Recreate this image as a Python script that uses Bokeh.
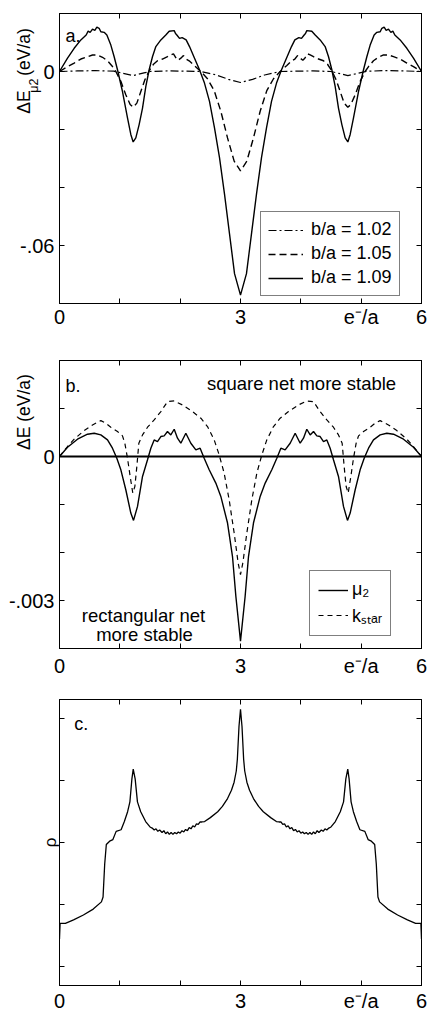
import math
from bokeh.plotting import figure
from bokeh.models import FixedTicker, LinearAxis, Range1d, Label, Legend, LegendItem, Span
from bokeh.layouts import column
from bokeh.embed import file_html
from bokeh.resources import INLINE

FONT = "Liberation Sans"
NB = "\u00a0"

# ---------------- data: panel a (Delta E_mu2 vs e-/a) ----------------
a109_x = [0, .133, .243, .354, .442, .475, .508, .547, .586, .619, .657, .685, .740, .785, .851, .906, .961,
          1.044, 1.127, 1.182, 1.221, 1.265, 1.320, 1.376, 1.431, 1.486, 1.541, 1.597, 1.680, 1.762, 1.818,
          1.901, 1.923, 1.945, 1.989, 2.033, 2.099, 2.155, 2.238, 2.320, 2.403, 2.486, 2.569, 2.652, 2.735,
          2.818, 2.901, 3.0,
          3.099, 3.182, 3.265, 3.348, 3.431, 3.514, 3.597, 3.680, 3.762, 3.845, 3.901, 3.967, 4.011, 4.055,
          4.077, 4.099, 4.182, 4.238, 4.320, 4.403, 4.459, 4.514, 4.569, 4.624, 4.680, 4.735, 4.779, 4.818,
          4.873, 4.956, 5.039, 5.094, 5.149, 5.215, 5.260, 5.315, 5.343, 5.381, 5.414, 5.453, 5.492, 5.525,
          5.558, 5.646, 5.757, 5.867, 6.0]
a109_y = [0, .0046, .0080, .0109, .0126, .0139, .0135, .0146, .0142, .0153, .0149, .0137, .0135, .0126, .0091,
          .0051, .0006, -.0069, -.0160, -.0217, -.0243, -.0229, -.0183, -.0126, -.0051, .0006, .0051, .0086,
          .0109, .0126, .0139, .0141, .0131, .0126, .0114, .0117, .0109, .0086, .0046, .0006, -.0040, -.0103,
          -.0194, -.0297, -.0423, -.0560, -.0697, -.0771,
          -.0697, -.0560, -.0423, -.0297, -.0194, -.0103, -.0040, .0006, .0046, .0086, .0109, .0117, .0114,
          .0126, .0131, .0141, .0139, .0126, .0109, .0086, .0051, .0006, -.0051, -.0126, -.0183, -.0229,
          -.0243, -.0217, -.0160, -.0069, .0006, .0051, .0091, .0126, .0135, .0137, .0149, .0153, .0142,
          .0146, .0135, .0139, .0126, .0109, .0080, .0046, 0]

a105_x = [0, .133, .243, .354, .464, .547, .630, .713, .796, .878, .934, 1.017, 1.099, 1.171, 1.221, 1.282,
          1.348, 1.414, 1.486, 1.558, 1.624, 1.707, 1.790, 1.845, 1.889, 1.934, 1.967, 2.011, 2.055, 2.099,
          2.149, 2.232, 2.343, 2.453, 2.564, 2.674, 2.785, 2.895, 3.0,
          3.105, 3.215, 3.326, 3.436, 3.547, 3.657, 3.768, 3.851, 3.901, 3.945, 3.989, 4.033, 4.066, 4.111,
          4.155, 4.210, 4.293, 4.376, 4.442, 4.514, 4.586, 4.652, 4.718, 4.779, 4.829, 4.901, 4.983, 5.066,
          5.122, 5.204, 5.287, 5.370, 5.453, 5.536, 5.646, 5.757, 5.867, 6.0]
a105_y = [0, .0017, .0029, .0043, .0051, .0057, .0057, .0049, .0037, .0017, 0, -.0034, -.0080, -.0114, -.0123,
          -.0109, -.0069, -.0029, .0002, .0025, .0037, .0043, .0051, .0057, .0061, .0046, .0039, .0046, .0055,
          .0043, .0037, .0021, 0, -.0025, -.0066, -.0137, -.0229, -.0309, -.0343,
          -.0309, -.0229, -.0137, -.0066, -.0025, 0, .0021, .0037, .0043, .0055, .0046, .0039, .0046, .0061,
          .0057, .0051, .0043, .0037, .0025, .0002, -.0029, -.0069, -.0109, -.0123, -.0114, -.0080, -.0034,
          0, .0017, .0037, .0049, .0057, .0057, .0051, .0043, .0029, .0017, 0]

a102_x = [0, .3, .6, .9, 1.05, 1.22, 1.4, 1.5, 1.8, 2.1, 2.34, 2.6, 2.8, 3.0, 3.2, 3.4, 3.66, 3.9, 4.2, 4.5,
          4.6, 4.78, 4.95, 5.1, 5.4, 5.7, 6.0]
a102_y = [0, .0002, .0003, .0001, -.0006, -.0014, -.0005, 0, .0002, .0001, 0, -.0012, -.0027, -.0038, -.0027,
          -.0012, 0, .0001, .0002, 0, -.0005, -.0014, -.0006, .0001, .0003, .0002, 0]

a_labels = ["b/a = 1.02", "b/a = 1.05", "b/a = 1.09"]

# ---------------- data: panel b (Delta E, mu2 vs k_star) ----------------
bmu_x = [0, .133, .298, .464, .575, .685, .796, .878, .950, 1.017, 1.099, 1.182, 1.227, 1.293, 1.376, 1.459,
         1.514, 1.569, 1.624, 1.680, 1.735, 1.790, 1.845, 1.901, 1.956, 2.011, 2.094, 2.177, 2.260, 2.331,
         2.398, 2.481, 2.591, 2.674, 2.785, 2.867, 2.923, 3.0,
         3.077, 3.133, 3.215, 3.326, 3.409, 3.519, 3.602, 3.669, 3.740, 3.823, 3.906, 3.989, 4.044, 4.099,
         4.155, 4.210, 4.265, 4.320, 4.376, 4.431, 4.486, 4.541, 4.624, 4.707, 4.773, 4.818, 4.901, 4.983,
         5.050, 5.122, 5.204, 5.315, 5.425, 5.536, 5.702, 5.867, 6.0]
bmu_y = [0, .000194, .000360, .000464, .000485, .000450, .000346, .000173, -.000035, -.000277, -.000693,
         -.001178, -.001331, -.001040, -.000416, -.000069, .000173, .000346, .000312, .000416, .000430,
         .000520, .000450, .000568, .000381, .000277, .000485, .000277, .000139, .000173, -.000035,
         -.000277, -.000554, -.000832, -.001386, -.002079, -.002911, -.003846,
         -.002911, -.002079, -.001386, -.000832, -.000554, -.000277, -.000035, .000173, .000139, .000277,
         .000485, .000277, .000381, .000568, .000450, .000520, .000430, .000416, .000312, .000346, .000173,
         -.000069, -.000416, -.001040, -.001331, -.001178, -.000693, -.000277, -.000035, .000173, .000346,
         .000450, .000485, .000464, .000360, .000194, 0]

bks_x = [0, .133, .243, .409, .547, .685, .768, .851, .961, 1.044, 1.083, 1.127, 1.171, 1.215, 1.249, 1.282,
         1.315, 1.376, 1.459, 1.569, 1.680, 1.790, 1.901, 2.039, 2.204, 2.343, 2.453, 2.564, 2.646, 2.729,
         2.812, 2.895, 2.961, 3.0,
         3.039, 3.105, 3.188, 3.271, 3.354, 3.436, 3.547, 3.657, 3.796, 3.961, 4.099, 4.210, 4.320, 4.431,
         4.541, 4.624, 4.685, 4.718, 4.751, 4.785, 4.829, 4.873, 4.917, 4.956, 5.039, 5.149, 5.232, 5.315,
         5.453, 5.591, 5.757, 5.867, 6.0]
bks_y = [0, .000208, .000360, .000540, .000658, .000748, .000693, .000610, .000520, .000430, .000277,
         -.000035, -.000416, -.000762, -.000624, -.000208, .000277, .000450, .000610, .000762, .000936,
         .001143, .001157, .001074, .000936, .000797, .000624, .000346, .000035, -.000346, -.000901,
         -.001594, -.002218, -.002460,
         -.002218, -.001594, -.000901, -.000346, .000035, .000346, .000624, .000797, .000936, .001074,
         .001157, .001143, .000936, .000762, .000610, .000450, .000277, -.000208, -.000624, -.000762,
         -.000416, -.000035, .000277, .000430, .000520, .000610, .000693, .000748, .000658, .000540,
         .000360, .000208, 0]

b_labels = ["\u03bc\u2082", "k\u209b\u209c\u2090\u1d63"]

# ---------------- data: panel c (density of states rho) ----------------
c_x = [0, .01, .098, .233, .396, .559, .695, .722, .749, .776, .831, .885, .939, 1.021, 1.075, 1.129, 1.167,
       1.200, 1.222, 1.254, 1.292, 1.346, 1.428, 1.500, 1.536, 1.57, 1.60, 1.63, 1.66, 1.70, 1.73, 1.76,
       1.79, 1.82, 1.85, 1.88, 1.91, 1.94, 1.97, 2.00, 2.03, 2.06, 2.09, 2.12, 2.15, 2.18, 2.21, 2.24, 2.27,
       2.30, 2.33, 2.36, 2.405, 2.50, 2.622, 2.70, 2.785, 2.85, 2.894, 2.93, 2.948, 2.975, 3.0,
       3.025, 3.052, 3.07, 3.106, 3.15, 3.215, 3.30, 3.378, 3.50, 3.595, 3.64, 3.67, 3.70, 3.73, 3.76, 3.79,
       3.82, 3.85, 3.88, 3.91, 3.94, 3.97, 4.00, 4.03, 4.06, 4.09, 4.12, 4.15, 4.18, 4.21, 4.24, 4.27, 4.30,
       4.34, 4.37, 4.40, 4.43, 4.464, 4.50, 4.572, 4.654, 4.708, 4.746, 4.778, 4.80, 4.833, 4.871, 4.925,
       4.979, 5.061, 5.115, 5.169, 5.224, 5.251, 5.278, 5.305, 5.441, 5.604, 5.767, 5.902, 5.99, 6.0]
c_y = [.45, .70, .70, .755, .834, .929, 1.045, 1.124, 1.651, 1.968, 2.021, 2.047, 2.179, 2.205, 2.337, 2.495,
       2.654, 3.023, 3.181, 3.023, 2.654, 2.495, 2.337, 2.25, 2.232, 2.20, 2.22, 2.18, 2.20, 2.16, 2.19,
       2.14, 2.17, 2.13, 2.16, 2.13, 2.16, 2.14, 2.17, 2.15, 2.19, 2.17, 2.21, 2.19, 2.24, 2.22, 2.27, 2.25,
       2.30, 2.29, 2.33, 2.33, 2.337, 2.40, 2.495, 2.58, 2.707, 2.84, 2.97, 3.15, 3.339, 3.866, 4.141,
       3.866, 3.339, 3.15, 2.97, 2.84, 2.707, 2.58, 2.495, 2.40, 2.337, 2.33, 2.33, 2.29, 2.30, 2.25, 2.27,
       2.22, 2.24, 2.19, 2.21, 2.17, 2.19, 2.15, 2.17, 2.14, 2.16, 2.13, 2.16, 2.13, 2.17, 2.14, 2.19, 2.16,
       2.20, 2.18, 2.22, 2.20, 2.232, 2.25, 2.337, 2.495, 2.654, 3.023, 3.181, 3.023, 2.654, 2.495, 2.337,
       2.205, 2.179, 2.047, 2.021, 1.968, 1.651, 1.124, 1.045, .929, .834, .755, .70, .70, .45]

# axis ticks and titles
x_major = [0, 3, 5, 6]
x_all = [0, 1, 2, 3, 4, 5, 6]
x_overrides = {5: "e\u207b/a"}
a_y_major = [-0.06, 0]
a_y_all = [-0.08, -0.06, -0.04, -0.02, 0, 0.02]
a_y_overrides = {-0.06: "-.06", 0: "0"}
b_y_major = [-0.003, 0]
b_y_all = [-0.004, -0.003, -0.002, -0.001, 0, 0.001, 0.002]
b_y_overrides = {-0.003: "-.003", 0: "0"}
c_y_all = [0, 1, 2, 3, 4]
a_ytitle = ["\u0394E", "\u03bc2", "(eV/a)"]
b_ytitle = "\u0394E (eV/a)"
c_ytitle = "\u03c1"

W = 427


def mapper(L, R, T, B, xr, yr):
    def f(px, py):
        return (xr[0] + (px - L) / (R - L) * (xr[1] - xr[0]),
                yr[1] - (py - T) / (B - T) * (yr[1] - yr[0]))
    return f


def set_axis(ax, major, allticks, overrides, standoff):
    minor = [t for t in allticks if t not in major]
    ax.ticker = FixedTicker(ticks=major, minor_ticks=minor)
    ax.major_tick_in = 5
    ax.major_tick_out = 0
    ax.minor_tick_in = 5
    ax.minor_tick_out = 0
    ax.major_tick_line_color = "black"
    ax.minor_tick_line_color = "black"
    ax.axis_line_color = "black"
    ax.major_label_standoff = standoff
    ax.major_label_overrides = overrides
    ax.major_label_text_font = FONT
    ax.major_label_text_font_size = "20px"
    ax.major_label_text_color = "black"


def set_title(ax, text, standoff, size="17.5px"):
    ax.axis_label = text
    ax.axis_label_standoff = standoff
    ax.axis_label_text_font = FONT
    ax.axis_label_text_font_size = size
    ax.axis_label_text_font_style = "normal"
    ax.axis_label_text_color = "black"


def make_fig(height, top, bottom, left, xr, yr, ymaj, yall, yover, xstand, ystand):
    p = figure(width=W, height=height, x_range=Range1d(*xr), y_range=Range1d(*yr),
               output_backend="svg", toolbar_location=None,
               min_border_top=top, min_border_bottom=bottom, min_border_left=left, min_border_right=6)
    p.xgrid.visible = False
    p.ygrid.visible = False
    p.outline_line_color = "black"
    p.outline_line_width = 1
    p.outline_line_alpha = 1
    p.background_fill_color = "white"
    p.border_fill_color = "white"
    set_axis(p.xaxis[0], x_major, x_all, x_overrides, xstand)
    set_axis(p.yaxis[0], ymaj, yall, yover, ystand)
    top_ax = LinearAxis()
    set_axis(top_ax, [], x_all, {}, 0)
    p.add_layout(top_ax, "above")
    right_ax = LinearAxis()
    set_axis(right_ax, [], yall, {}, 0)
    p.add_layout(right_ax, "right")
    return p


def add_label(p, xy, text, size="18px", align="left"):
    p.add_layout(Label(x=xy[0], y=xy[1], text=text, text_align=align,
                       text_baseline="alphabetic", text_font=FONT, text_font_size=size,
                       text_color="black"))


def style_legend(leg, loc, gw, standoff, pad):
    leg.location = loc
    leg.margin = 0
    leg.padding = pad
    leg.spacing = 3
    leg.glyph_width = gw
    leg.glyph_height = 20
    leg.label_height = 20
    leg.label_standoff = standoff
    leg.label_text_font = FONT
    leg.label_text_font_size = "18px"
    leg.label_text_color = "black"
    leg.border_line_color = "black"
    leg.border_line_width = 1
    leg.background_fill_color = "white"
    leg.background_fill_alpha = 1.0


# ---------------- panel a ----------------
a_xr, a_yr = (0, 6), (-0.08, 0.02)
pa = make_fig(335, 13, 32, 59, a_xr, a_yr, a_y_major, a_y_all, a_y_overrides, 2, 5)
ma = mapper(59, 421, 13, 303, a_xr, a_yr)
r102 = pa.line(a102_x, a102_y, line_color="black", line_width=1.2, line_dash="8 3 2 3")
r105 = pa.line(a105_x, a105_y, line_color="black", line_width=1.4, line_dash="7 4")
r109 = pa.line(a109_x, a109_y, line_color="black", line_width=1.4)
leg_a = Legend(items=[LegendItem(label=a_labels[0], renderers=[r102]),
                      LegendItem(label=a_labels[1], renderers=[r105]),
                      LegendItem(label=a_labels[2], renderers=[r109])])
style_legend(leg_a, (201, 7), 35, 8, 7)
pa.add_layout(leg_a)
add_label(pa, ma(65, 35), "a.")
# y title: main part (gap left for the subscript), shifted up with leading no-break spaces
set_title(pa.yaxis[0], NB * 36 + a_ytitle[0] + NB * 3 + a_ytitle[2], -17)
sub_ax = LinearAxis(ticker=FixedTicker(ticks=[], minor_ticks=[]))
sub_ax.axis_line_color = None
sub_ax.major_tick_line_color = None
sub_ax.minor_tick_line_color = None
set_title(sub_ax, NB * 42 + a_ytitle[1], -29, "12.5px")
pa.add_layout(sub_ax, "left")

# ---------------- panel b ----------------
b_xr, b_yr = (0, 6), (-0.004, 0.002)
pb = make_fig(345, 25, 32, 59, b_xr, b_yr, b_y_major, b_y_all, b_y_overrides, 6, 5)
mb = mapper(59, 421, 360, 648, b_xr, b_yr)
pb.add_layout(Span(location=0, dimension="width", line_color="black", line_width=2))
rmu = pb.line(bmu_x, bmu_y, line_color="black", line_width=1.4)
rks = pb.line(bks_x, bks_y, line_color="black", line_width=1.2, line_dash="5 4")
leg_b = Legend(items=[LegendItem(label=b_labels[0], renderers=[rmu]),
                      LegendItem(label=b_labels[1], renderers=[rks])])
style_legend(leg_b, (250, 12), 30, 4, 8)
pb.add_layout(leg_b)
add_label(pb, mb(65, 385), "b.")
add_label(pb, mb(301, 383), "square net more stable", "18.5px", "center")
add_label(pb, mb(143, 615), "rectangular net", "18.5px", "center")
add_label(pb, mb(144, 634), "more stable", "18.5px", "center")
set_title(pb.yaxis[0], NB * 38 + b_ytitle, -28)

# ---------------- panel c ----------------
c_xr, c_yr = (0, 6), (-0.3, 4.3)
pc = make_fig(334, 19, 28, 52, c_xr, c_yr, [], c_y_all, {}, 4, 0)
mc = mapper(52, 421, 699, 986, c_xr, c_yr)
pc.line(c_x, c_y, line_color="black", line_width=1.3)
add_label(pc, mc(67, 724), "c.")
set_title(pc.yaxis[0], c_ytitle, 0, "17px")

layout = column(pa, pb, pc, spacing=0)
open("out.html", "w").write(file_html(layout, INLINE))
